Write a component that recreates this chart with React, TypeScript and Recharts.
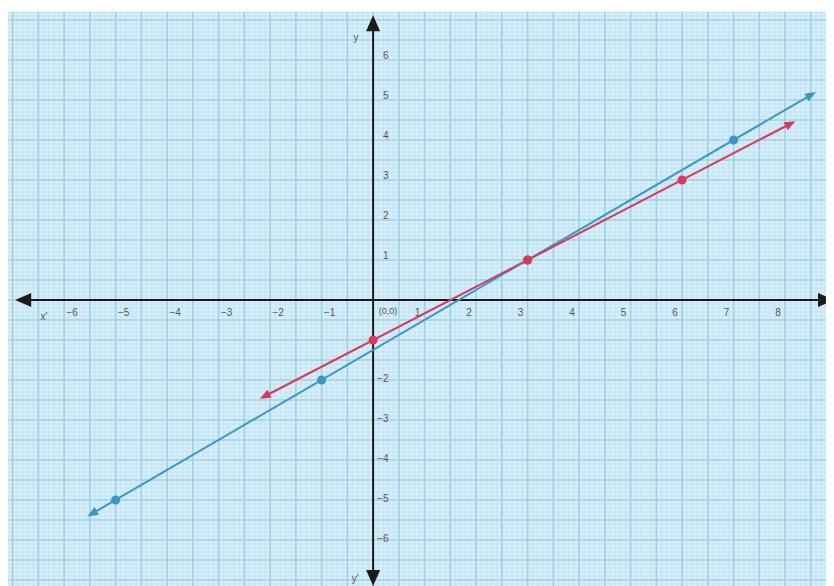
import React from "react";
import { ComposedChart, XAxis, YAxis, CartesianGrid, ReferenceLine, ReferenceDot, Scatter } from "recharts";

const xDomain = [-7.09, 8.95];
const yDomain = [-7.15, 7.2];

const xTickLabels = [-6, -5, -4, -3, -2, -1, 1, 2, 3, 4, 5, 6, 7, 8];
const yTickLabels = [6, 5, 4, 3, 2, 1, -2, -3, -4, -5, -6];

// line y = 3/4 x - 5/4
const bluePoints = [
  { x: -5, y: -5 },
  { x: -1, y: -2 },
  { x: 3, y: 1 },
  { x: 7, y: 4 },
];
const blueEnds = [
  { x: -5.55, y: -5.41 },
  { x: 8.6, y: 5.2 },
];

// line y = 2/3 x - 1
const redPoints = [
  { x: 0, y: -1 },
  { x: 3, y: 1 },
  { x: 6, y: 3 },
];
const redEnds = [
  { x: -2.2, y: -2.47 },
  { x: 8.2, y: 4.47 },
];

const xAxisEnds = [
  { x: -6.95, y: 0 },
  { x: 8.95, y: 0 },
];
const yAxisEnds = [
  { x: 0, y: -7.15 },
  { x: 0, y: 7.12 },
];

// graph paper: every 0.1 unit, darker every 0.5
const gridX = Array.from({ length: 161 }, (_, i) => Math.round(-70 + i) / 10);
const gridY = Array.from({ length: 144 }, (_, i) => Math.round(-71 + i) / 10);
const isMajor = (v: number) => Math.abs(v * 2 - Math.round(v * 2)) < 1e-6;

const BLUE = "#3d97c6";
const RED = "#d63a5c";
const AXIS = "#1b1b1b";

function arrowLine(color: string, width: number, len: number, half: number) {
  return (props: any) => {
    const { x1, y1, x2, y2 } = props;
    const dx = x2 - x1;
    const dy = y2 - y1;
    const d = Math.sqrt(dx * dx + dy * dy) || 1;
    const ux = dx / d;
    const uy = dy / d;
    const head = (tx: number, ty: number, sx: number, sy: number) => {
      const bx = tx - sx * len;
      const by = ty - sy * len;
      return `${tx},${ty} ${bx - sy * half},${by + sx * half} ${bx + sy * half},${by - sx * half}`;
    };
    return (
      <g>
        <line x1={x1 + ux * len * 0.6} y1={y1 + uy * len * 0.6} x2={x2 - ux * len * 0.6} y2={y2 - uy * len * 0.6} stroke={color} strokeWidth={width} />
        <polygon points={head(x1, y1, -ux, -uy)} fill={color} />
        <polygon points={head(x2, y2, ux, uy)} fill={color} />
      </g>
    );
  };
}

const dotShape = (color: string) => (props: any) => <circle cx={props.cx} cy={props.cy} r={4.5} fill={color} />;

const textShape = (text: string, dx: number, dy: number, anchor: string, size = 10) => (props: any) => (
  <text x={props.cx + dx} y={props.cy + dy} textAnchor={anchor} dominantBaseline="central" fontSize={size} fill="#555" fontFamily="Liberation Sans, Arial, sans-serif">
    {text}
  </text>
);

export default function App() {
  return (
    <div style={{ width: 826, height: 578 }}>
      <ComposedChart width={826} height={578} margin={{ top: 4, right: 0, bottom: 0, left: 0 }}>
        <XAxis type="number" dataKey="x" domain={xDomain} allowDataOverflow hide />
        <YAxis type="number" dataKey="y" domain={yDomain} allowDataOverflow hide />
        <CartesianGrid fill="#d6eef9" horizontal={false} vertical={false} />
        {gridX.filter((v) => !isMajor(v)).map((v) => (
          <ReferenceLine key={"mx" + v} x={v} stroke="#c3e4f3" strokeWidth={1} />
        ))}
        {gridY.filter((v) => !isMajor(v)).map((v) => (
          <ReferenceLine key={"my" + v} y={v} stroke="#c3e4f3" strokeWidth={1} />
        ))}
        {gridX.filter(isMajor).map((v) => (
          <ReferenceLine key={"Mx" + v} x={v} stroke="#9fd0e5" strokeWidth={1.6} />
        ))}
        {gridY.filter(isMajor).map((v) => (
          <ReferenceLine key={"My" + v} y={v} stroke="#9fd0e5" strokeWidth={1.6} />
        ))}
        <ReferenceLine segment={xAxisEnds} ifOverflow="visible" shape={arrowLine(AXIS, 2, 16, 7)} />
        <ReferenceLine segment={yAxisEnds} ifOverflow="visible" shape={arrowLine(AXIS, 2, 16, 7)} />
        {xTickLabels.map((v) => (
          <ReferenceDot key={"xl" + v} x={v} y={0} ifOverflow="visible" shape={textShape(v < 0 ? "\u2212" + Math.abs(v) : String(v), v < 0 ? 8 : -7, 12, "middle")} />
        ))}
        {yTickLabels.map((v) => (
          <ReferenceDot key={"yl" + v} x={0} y={v} ifOverflow="visible" shape={textShape(v < 0 ? "\u2212" + Math.abs(v) : String(v), v < 0 ? 4 : 10, v < 0 ? -2 : -5, "start")} />
        ))}
        <ReferenceDot x={0} y={0} ifOverflow="visible" shape={textShape("(0,0)", 15, 11, "middle", 9)} />
        <ReferenceDot x={xDomain[0]} y={0} ifOverflow="visible" shape={textShape("x'", 36, 16, "middle")} />
        <ReferenceDot x={xDomain[1]} y={0} ifOverflow="visible" shape={textShape("x", -5, 16, "middle")} />
        <ReferenceDot x={0} y={yDomain[1]} ifOverflow="visible" shape={textShape("y", -17, 25, "middle")} />
        <ReferenceDot x={0} y={yDomain[0]} ifOverflow="visible" shape={textShape("y'", -18, -8, "middle")} />
        <ReferenceLine segment={blueEnds} ifOverflow="visible" shape={arrowLine(BLUE, 2, 11, 4.5)} />
        <ReferenceLine segment={redEnds} ifOverflow="visible" shape={arrowLine(RED, 2, 11, 4.5)} />
        <Scatter data={bluePoints} isAnimationActive={false} shape={dotShape(BLUE)} />
        <Scatter data={redPoints} isAnimationActive={false} shape={dotShape(RED)} />
      </ComposedChart>
    </div>
  );
}
